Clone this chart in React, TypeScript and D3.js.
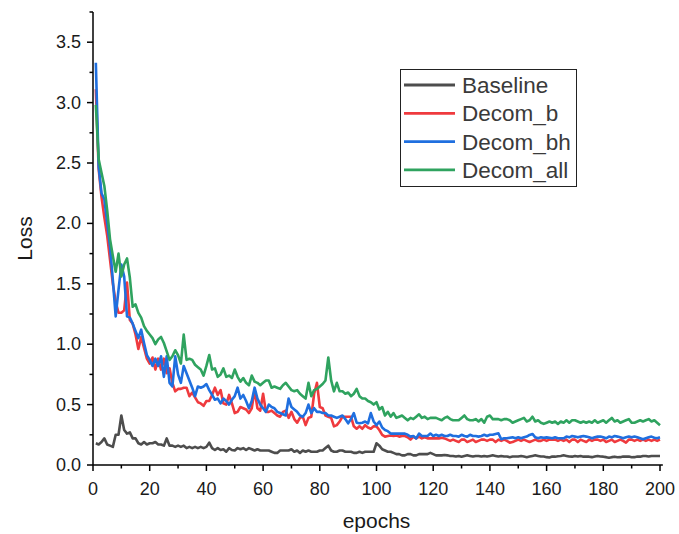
import React from "react";
import * as d3 from "d3";

const seriesNames = ["Baseline", "Decom_b", "Decom_bh", "Decom_all"];
const seriesColors = ["#4d4d4d", "#ef3a3e", "#1f6fdf", "#2fa35f"];
const xTicks = [0, 20, 40, 60, 80, 100, 120, 140, 160, 180, 200];
const yTicks = [0.0, 0.5, 1.0, 1.5, 2.0, 2.5, 3.0, 3.5];

const baseline = [
  0.18,0.17,0.19,0.22,0.17,0.16,0.15,0.25,0.25,0.41,
  0.29,0.26,0.27,0.22,0.22,0.18,0.17,0.19,0.17,0.18,
  0.18,0.19,0.17,0.17,0.16,0.22,0.16,0.16,0.15,0.16,
  0.15,0.16,0.14,0.15,0.14,0.15,0.14,0.15,0.14,0.15,
  0.185,0.14,0.124,0.14,0.124,0.13,0.11,0.14,0.124,0.12,
  0.14,0.13,0.14,0.124,0.14,0.13,0.12,0.13,0.12,0.12,
  0.12,0.12,0.11,0.10,0.10,0.12,0.12,0.12,0.12,0.13,
  0.11,0.12,0.10,0.12,0.11,0.12,0.11,0.11,0.11,0.12,
  0.12,0.14,0.16,0.12,0.11,0.11,0.12,0.12,0.11,0.11,
  0.11,0.10,0.10,0.11,0.10,0.11,0.11,0.11,0.11,0.18,
  0.16,0.13,0.12,0.11,0.11,0.10,0.09,0.09,0.08,0.08,
  0.09,0.09,0.08,0.08,0.09,0.09,0.09,0.09,0.10,0.09,
  0.08,0.08,0.08,0.083,0.08,0.075,0.075,0.07,0.075,0.069,
  0.075,0.08,0.075,0.07,0.075,0.075,0.07,0.075,0.07,0.075,
  0.08,0.075,0.07,0.075,0.07,0.07,0.065,0.07,0.07,0.07,
  0.075,0.07,0.065,0.07,0.075,0.08,0.075,0.07,0.07,0.065,
  0.062,0.07,0.069,0.072,0.075,0.08,0.075,0.07,0.069,0.075,
  0.07,0.075,0.069,0.07,0.069,0.065,0.07,0.075,0.07,0.069,
  0.065,0.06,0.065,0.069,0.064,0.065,0.07,0.069,0.07,0.064,
  0.065,0.07,0.069,0.075,0.075,0.07,0.075,0.075,0.075,0.075,
];

const decomB = [
  3.11,2.45,2.22,2.05,1.90,1.70,1.50,1.35,1.26,1.26,
  1.28,1.51,1.20,1.17,1.08,0.96,1.06,0.97,0.88,0.84,
  0.89,0.79,0.88,0.79,0.88,0.76,0.80,0.68,0.61,0.63,
  0.63,0.64,0.64,0.57,0.60,0.56,0.52,0.51,0.49,0.53,
  0.53,0.58,0.64,0.58,0.62,0.51,0.50,0.58,0.51,0.43,
  0.44,0.48,0.47,0.46,0.43,0.47,0.62,0.47,0.45,0.59,
  0.44,0.44,0.45,0.43,0.41,0.40,0.44,0.45,0.39,0.44,
  0.38,0.35,0.39,0.40,0.33,0.39,0.40,0.59,0.68,0.48,
  0.47,0.41,0.40,0.39,0.32,0.33,0.36,0.40,0.40,0.40,
  0.40,0.32,0.30,0.32,0.30,0.33,0.31,0.30,0.32,0.32,
  0.29,0.25,0.235,0.24,0.245,0.24,0.245,0.235,0.24,0.24,
  0.23,0.21,0.235,0.22,0.235,0.22,0.23,0.22,0.22,0.22,
  0.22,0.22,0.225,0.22,0.21,0.20,0.21,0.20,0.19,0.21,
  0.21,0.19,0.20,0.21,0.19,0.20,0.21,0.21,0.20,0.21,
  0.21,0.19,0.21,0.20,0.21,0.20,0.185,0.19,0.20,0.21,
  0.20,0.21,0.20,0.19,0.20,0.21,0.20,0.20,0.21,0.20,
  0.21,0.21,0.21,0.20,0.21,0.20,0.21,0.19,0.21,0.21,
  0.19,0.21,0.20,0.19,0.21,0.20,0.21,0.21,0.20,0.21,
  0.19,0.20,0.21,0.19,0.20,0.21,0.20,0.185,0.21,0.21,
  0.20,0.21,0.20,0.21,0.20,0.21,0.20,0.21,0.20,0.21,
];

const decomBh = [
  3.33,2.47,2.25,2.20,2.00,1.81,1.53,1.23,1.45,1.66,
  1.56,1.23,1.22,1.17,1.11,1.05,1.12,1.01,0.91,0.87,
  0.82,0.88,0.82,0.90,0.73,0.90,0.68,0.65,0.90,0.75,
  0.68,0.82,0.76,0.70,0.64,0.57,0.65,0.64,0.65,0.67,
  0.62,0.58,0.54,0.55,0.51,0.55,0.53,0.50,0.54,0.57,
  0.64,0.55,0.58,0.53,0.47,0.53,0.64,0.55,0.50,0.47,
  0.44,0.50,0.48,0.47,0.44,0.43,0.42,0.41,0.55,0.48,
  0.46,0.44,0.41,0.40,0.43,0.50,0.43,0.47,0.44,0.44,
  0.43,0.43,0.41,0.41,0.40,0.39,0.40,0.41,0.38,0.345,
  0.38,0.43,0.35,0.345,0.35,0.36,0.345,0.43,0.36,0.33,
  0.36,0.31,0.29,0.28,0.26,0.26,0.26,0.26,0.26,0.26,
  0.25,0.235,0.24,0.22,0.26,0.24,0.24,0.24,0.26,0.24,
  0.25,0.24,0.25,0.24,0.24,0.25,0.24,0.24,0.235,0.25,
  0.24,0.235,0.25,0.24,0.24,0.235,0.24,0.25,0.24,0.25,
  0.25,0.257,0.263,0.213,0.221,0.221,0.226,0.229,0.221,0.229,
  0.221,0.229,0.235,0.249,0.257,0.229,0.221,0.229,0.226,0.229,
  0.226,0.221,0.229,0.221,0.221,0.221,0.235,0.229,0.24,0.235,
  0.229,0.235,0.24,0.235,0.229,0.221,0.229,0.235,0.235,0.229,
  0.221,0.235,0.229,0.24,0.235,0.229,0.221,0.229,0.235,0.229,
  0.235,0.229,0.221,0.213,0.221,0.229,0.235,0.226,0.221,0.229,
];

const decomAll = [
  2.98,2.53,2.42,2.31,2.11,1.87,1.73,1.60,1.75,1.56,
  1.66,1.71,1.55,1.31,1.33,1.26,1.22,1.15,1.11,1.08,
  1.05,1.00,1.04,1.06,1.01,0.94,0.87,0.90,0.95,0.91,
  0.84,1.08,0.87,0.88,0.87,0.83,0.81,0.79,0.74,0.82,
  0.91,0.79,0.80,0.73,0.75,0.80,0.73,0.74,0.72,0.79,
  0.73,0.69,0.72,0.68,0.66,0.74,0.69,0.68,0.66,0.68,
  0.70,0.70,0.64,0.65,0.64,0.63,0.66,0.68,0.65,0.62,
  0.61,0.62,0.59,0.57,0.55,0.68,0.57,0.62,0.63,0.65,
  0.67,0.70,0.89,0.70,0.61,0.68,0.61,0.61,0.59,0.60,
  0.57,0.59,0.63,0.57,0.55,0.55,0.53,0.52,0.50,0.52,
  0.46,0.48,0.41,0.44,0.40,0.43,0.39,0.40,0.41,0.39,
  0.37,0.39,0.38,0.40,0.42,0.39,0.40,0.38,0.39,0.39,
  0.39,0.38,0.37,0.39,0.40,0.38,0.37,0.37,0.37,0.39,
  0.41,0.38,0.37,0.37,0.38,0.36,0.38,0.35,0.40,0.41,
  0.38,0.38,0.38,0.37,0.38,0.38,0.37,0.35,0.36,0.37,
  0.38,0.39,0.36,0.37,0.40,0.36,0.37,0.35,0.34,0.35,
  0.36,0.35,0.36,0.34,0.36,0.35,0.37,0.35,0.37,0.37,
  0.36,0.35,0.36,0.35,0.36,0.35,0.37,0.35,0.36,0.37,
  0.35,0.37,0.39,0.36,0.37,0.35,0.36,0.37,0.38,0.35,
  0.35,0.36,0.37,0.36,0.37,0.38,0.36,0.37,0.35,0.33,
];

const allSeries = [baseline, decomB, decomBh, decomAll];

const W = 679;
const H = 534;
const FONT = "'Liberation Sans', Arial, sans-serif";

export default function App() {
  const x = d3.scaleLinear().domain([0, 200]).range([93, 660]);
  const y = d3.scaleLinear().domain([0, 3.75]).range([465, 12]);
  const line = d3
    .line<number>()
    .x((_, i) => x(i + 1))
    .y((d) => y(d));

  const xMinor = d3.range(0, 201, 10);
  const yMinor = d3.range(0, 3.76, 0.25);

  return (
    <svg
      width={W}
      height={H}
      style={{ position: "absolute", left: 0, top: 0, background: "#fff" }}
      fontFamily={FONT}
    >
      {allSeries.map((s, k) => (
        <path
          key={seriesNames[k]}
          d={line(s) || ""}
          fill="none"
          stroke={seriesColors[k]}
          strokeWidth={2.6}
          strokeLinejoin="round"
        />
      ))}
      <line x1={x(0)} x2={x(0)} y1={y(0)} y2={y(3.75)} stroke="#000" strokeWidth={1.5} />
      <line x1={x(0)} x2={x(201)} y1={y(0)} y2={y(0)} stroke="#000" strokeWidth={1.5} />
      {xMinor.map((t) => (
        <line
          key={"xm" + t}
          x1={x(t)}
          x2={x(t)}
          y1={y(0)}
          y2={y(0) + (t % 20 === 0 ? 6 : 3.5)}
          stroke="#000"
          strokeWidth={1.5}
        />
      ))}
      {yMinor.map((t) => (
        <line
          key={"ym" + t}
          x1={x(0)}
          x2={x(0) - (Math.abs(t * 2 - Math.round(t * 2)) < 1e-6 ? 6 : 3.5)}
          y1={y(t)}
          y2={y(t)}
          stroke="#000"
          strokeWidth={1.5}
        />
      ))}
      {xTicks.map((t) => (
        <text
          key={"xt" + t}
          x={x(t)}
          y={y(0) + 30}
          textAnchor="middle"
          fontSize={18}
          fill="#1a1a1a"
        >
          {t}
        </text>
      ))}
      {yTicks.map((t) => (
        <text
          key={"yt" + t}
          x={x(0) - 12}
          y={y(t) + 6}
          textAnchor="end"
          fontSize={18}
          fill="#1a1a1a"
        >
          {t.toFixed(1)}
        </text>
      ))}
      <text x={(x(0) + x(200)) / 2} y={528} textAnchor="middle" fontSize={21} fill="#1a1a1a">
        epochs
      </text>
      <text
        transform={`translate(32, ${(y(0) + y(3.75)) / 2}) rotate(-90)`}
        textAnchor="middle"
        fontSize={21}
        fill="#1a1a1a"
      >
        Loss
      </text>
      <rect x={400.5} y={69.5} width={176} height={117} fill="#fff" stroke="#222" strokeWidth={1} />
      {seriesNames.map((n, k) => (
        <g key={"lg" + n}>
          <line
            x1={404}
            x2={455}
            y1={85 + k * 28.3}
            y2={85 + k * 28.3}
            stroke={seriesColors[k]}
            strokeWidth={2.8}
          />
          <text x={462} y={85 + k * 28.3 + 8} fontSize={22.5} fill="#3a3a3a">
            {n}
          </text>
        </g>
      ))}
    </svg>
  );
}
